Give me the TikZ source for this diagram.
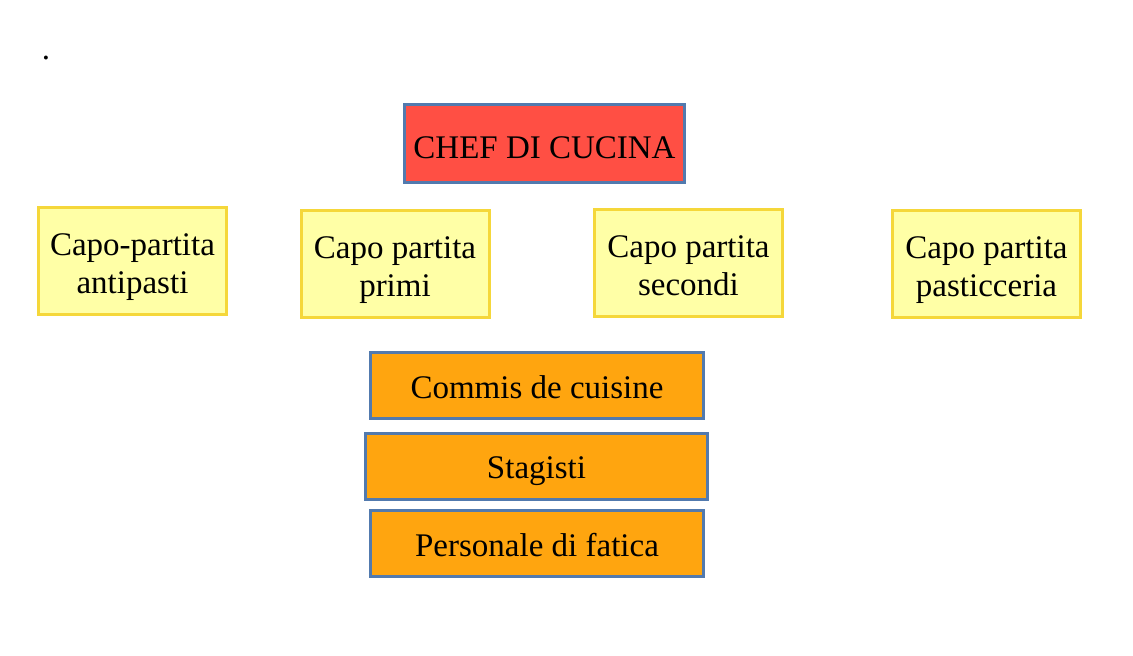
\documentclass[tikz,border=0pt]{standalone}
\usepackage{fontspec}
\setmainfont{Liberation Serif}
\definecolor{chefred}{HTML}{FF4F44}
\definecolor{chefline}{HTML}{527AAE}
\definecolor{capofill}{HTML}{FFFFA6}
\definecolor{capoline}{HTML}{F5D73A}
\definecolor{staffill}{HTML}{FFA50F}
\begin{document}
\begin{tikzpicture}[x=1pt,y=-1pt,
  basebox/.style={rectangle, line width=3pt, inner sep=0pt, align=center,
    font=\fontsize{33}{38}\selectfont, text=black},
  chefbox/.style={basebox, draw=chefline, fill=chefred, minimum width=280pt, minimum height=78pt,
    text height=30pt, text depth=0pt},
  capobox/.style={basebox, draw=capoline, fill=capofill, minimum width=188pt, minimum height=107pt,
    text height=72pt, text depth=7pt},
  staffbox/.style={basebox, draw=chefline, fill=staffill, minimum height=66pt,
    text height=25pt, text depth=0pt}]
\useasboundingbox (0,0) rectangle (1133,656);
\fill[white] (0,0) rectangle (1133,656);
\node[font=\fontsize{33}{38}\selectfont] (dot) at (46,58) {.};
\node[chefbox] (chef) at (544.5,143.5) {CHEF DI CUCINA};
\node[capobox] (a1) at (132.5,261) {Capo-partita\\antipasti};
\node[capobox] (a2) at (395,264) {Capo partita\\primi};
\node[capobox] (a3) at (688.5,263) {Capo partita\\secondi};
\node[capobox] (a4) at (986.5,264) {Capo partita\\pasticceria};
\node[staffbox, minimum width=333pt] (c1) at (537,385.5) {Commis de cuisine};
\node[staffbox, minimum width=342pt] (c2) at (536.5,466) {Stagisti};
\node[staffbox, minimum width=333pt] (c3) at (537,543.5) {Personale di fatica};
\end{tikzpicture}
\end{document}
